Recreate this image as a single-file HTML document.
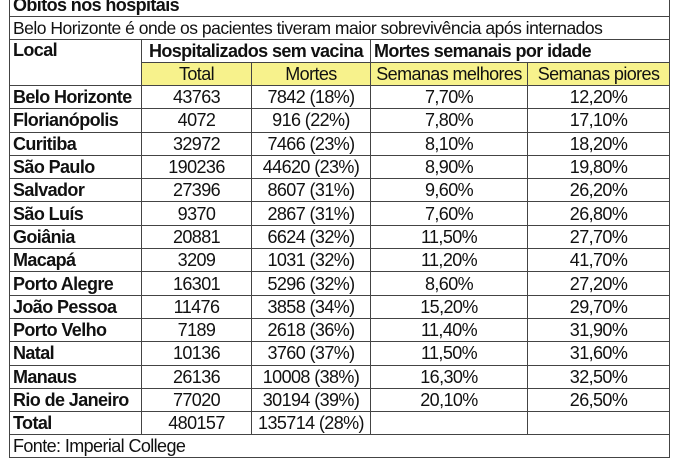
<!DOCTYPE html>
<html><head><meta charset="utf-8"><style>
body{margin:0;width:675px;height:449px;background:#fff;overflow:hidden;font-family:"Liberation Sans",Arial,sans-serif;color:#111}
table{position:absolute;left:9px;top:-7px;border-collapse:collapse;table-layout:fixed;width:660px}
td{border:1.5px solid #444;padding:0 3px;height:22.3px;font-size:18px;text-align:center;white-space:nowrap;overflow:hidden;letter-spacing:-0.6px;line-height:20px}
td.l{text-align:left;font-weight:bold}
tr.t td{height:22px;text-align:left;font-weight:bold;font-size:18px}
tr.s td{text-align:left;height:22px;font-size:17.5px;letter-spacing:-0.5px}
tr.h td{font-weight:bold;font-size:18px;height:22px}
tr.y td{background:#f7f28c;height:22px}
tr.f td{text-align:left;height:22px}
</style></head><body>
<table>
<col style="width:132px"><col style="width:110px"><col style="width:119px"><col style="width:157px"><col style="width:142px">
<tr class="t"><td colspan="5">Óbitos nos hospitais</td></tr>
<tr class="s"><td colspan="5">Belo Horizonte é onde os pacientes tiveram maior sobrevivência após internados</td></tr>
<tr class="h"><td class="l" rowspan="2" style="vertical-align:top">Local</td><td colspan="2">Hospitalizados sem vacina</td><td colspan="2" style="text-align:left">Mortes semanais por idade</td></tr>
<tr class="y"><td>Total</td><td>Mortes</td><td>Semanas melhores</td><td>Semanas piores</td></tr>
<tr><td class="l">Belo Horizonte</td><td>43763</td><td>7842 (18%)</td><td>7,70%</td><td>12,20%</td></tr>
<tr><td class="l">Florianópolis</td><td>4072</td><td>916 (22%)</td><td>7,80%</td><td>17,10%</td></tr>
<tr><td class="l">Curitiba</td><td>32972</td><td>7466 (23%)</td><td>8,10%</td><td>18,20%</td></tr>
<tr><td class="l">São Paulo</td><td>190236</td><td>44620 (23%)</td><td>8,90%</td><td>19,80%</td></tr>
<tr><td class="l">Salvador</td><td>27396</td><td>8607 (31%)</td><td>9,60%</td><td>26,20%</td></tr>
<tr><td class="l">São Luís</td><td>9370</td><td>2867 (31%)</td><td>7,60%</td><td>26,80%</td></tr>
<tr><td class="l">Goiânia</td><td>20881</td><td>6624 (32%)</td><td>11,50%</td><td>27,70%</td></tr>
<tr><td class="l">Macapá</td><td>3209</td><td>1031 (32%)</td><td>11,20%</td><td>41,70%</td></tr>
<tr><td class="l">Porto Alegre</td><td>16301</td><td>5296 (32%)</td><td>8,60%</td><td>27,20%</td></tr>
<tr><td class="l">João Pessoa</td><td>11476</td><td>3858 (34%)</td><td>15,20%</td><td>29,70%</td></tr>
<tr><td class="l">Porto Velho</td><td>7189</td><td>2618 (36%)</td><td>11,40%</td><td>31,90%</td></tr>
<tr><td class="l">Natal</td><td>10136</td><td>3760 (37%)</td><td>11,50%</td><td>31,60%</td></tr>
<tr><td class="l">Manaus</td><td>26136</td><td>10008 (38%)</td><td>16,30%</td><td>32,50%</td></tr>
<tr><td class="l">Rio de Janeiro</td><td>77020</td><td>30194 (39%)</td><td>20,10%</td><td>26,50%</td></tr>
<tr><td class="l">Total</td><td>480157</td><td>135714 (28%)</td><td></td><td></td></tr>
<tr class="f"><td colspan="5">Fonte: Imperial College</td></tr>
</table>
</body></html>
